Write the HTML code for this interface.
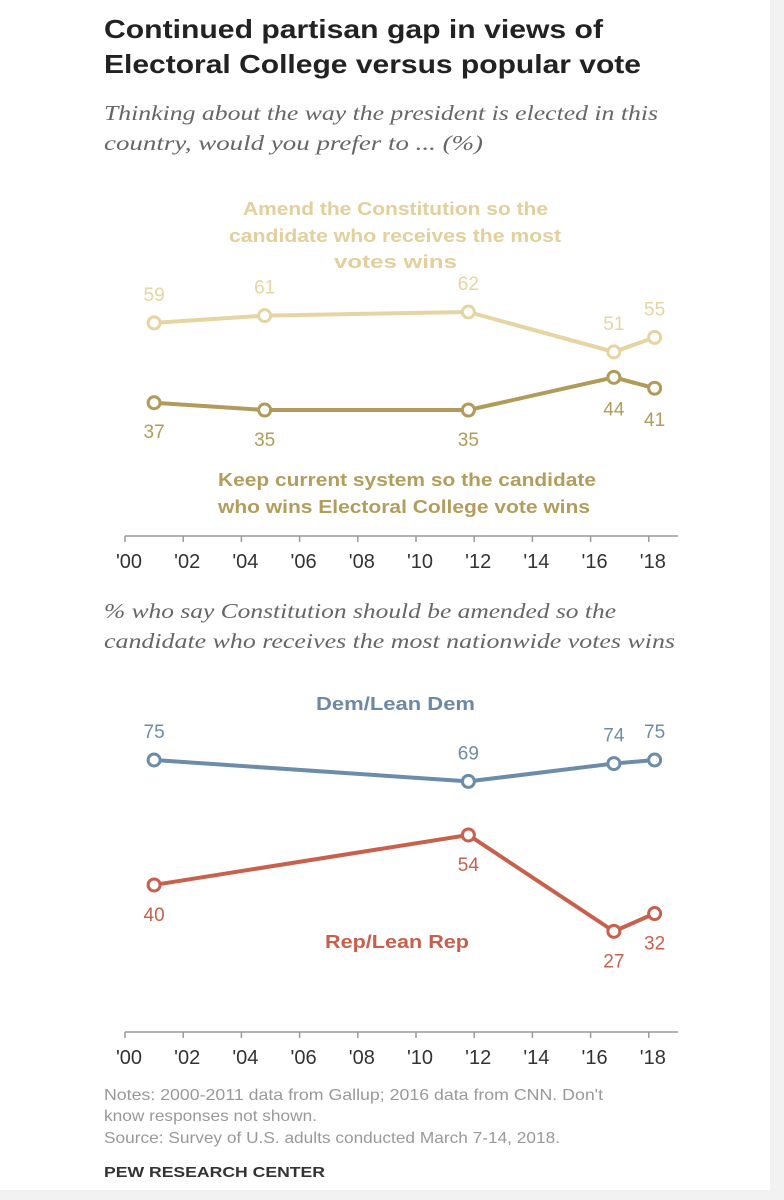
<!DOCTYPE html>
<html><head><meta charset="utf-8"><style>
body{margin:0;width:784px;height:1200px;background:#f2f2f2;font-family:"Liberation Sans",sans-serif;overflow:hidden}
#card{position:absolute;left:0;top:0;width:770px;height:1190px;background:#fff}
svg{position:absolute;left:0;top:0}
</style></head><body>
<div id="card"></div>
<svg id="c" width="784" height="1200">
<g>
<text x="104" y="38" font-size="26" font-weight="bold" fill="#222" textLength="499" lengthAdjust="spacingAndGlyphs">Continued partisan gap in views of</text>
<text x="104" y="73" font-size="26" font-weight="bold" fill="#222" textLength="537" lengthAdjust="spacingAndGlyphs">Electoral College versus popular vote</text>
<text x="104" y="120" font-family="Liberation Serif" font-style="italic" font-size="21" fill="#666" textLength="554" lengthAdjust="spacingAndGlyphs">Thinking about the way the president is elected in this</text>
<text x="104" y="150" font-family="Liberation Serif" font-style="italic" font-size="21" fill="#666" textLength="379" lengthAdjust="spacingAndGlyphs">country, would you prefer to ... (%)</text>
<g font-weight="bold" font-size="18">
<text x="243" y="215" fill="#e3cf9c" textLength="305" lengthAdjust="spacingAndGlyphs">Amend the Constitution so the</text>
<text x="229" y="242" fill="#e3cf9c" textLength="332" lengthAdjust="spacingAndGlyphs">candidate who receives the most</text>
<text x="334" y="268" fill="#e3cf9c" textLength="123" lengthAdjust="spacingAndGlyphs">votes wins</text>
<text x="218" y="486" fill="#b39d5c" textLength="378" lengthAdjust="spacingAndGlyphs">Keep current system so the candidate</text>
<text x="218" y="513" fill="#b39d5c" textLength="372" lengthAdjust="spacingAndGlyphs">who wins Electoral College vote wins</text>
<text x="316" y="710" fill="#6c8aa6" textLength="159" lengthAdjust="spacingAndGlyphs">Dem/Lean Dem</text>
<text x="325" y="948" fill="#c6604d" textLength="144" lengthAdjust="spacingAndGlyphs">Rep/Lean Rep</text>
</g>
<text x="104" y="618" font-family="Liberation Serif" font-style="italic" font-size="21" fill="#666" textLength="512" lengthAdjust="spacingAndGlyphs">% who say Constitution should be amended so the</text>
<text x="104" y="648" font-family="Liberation Serif" font-style="italic" font-size="21" fill="#666" textLength="571" lengthAdjust="spacingAndGlyphs">candidate who receives the most nationwide votes wins</text>
<g font-size="16" fill="#999">
<text x="104" y="1100" textLength="499" lengthAdjust="spacingAndGlyphs">Notes: 2000-2011 data from Gallup; 2016 data from CNN. Don't</text>
<text x="104" y="1121" textLength="213" lengthAdjust="spacingAndGlyphs">know responses not shown.</text>
<text x="104" y="1143" textLength="456" lengthAdjust="spacingAndGlyphs">Source: Survey of U.S. adults conducted March 7-14, 2018.</text>
</g>
<text x="104" y="1177" font-size="15" font-weight="bold" fill="#333" textLength="221" lengthAdjust="spacingAndGlyphs">PEW RESEARCH CENTER</text>
</g>
</svg>
<script>
const years=[2001,2004.8,2011.8,2016.8,2018.2];
const amend=[59,61,62,51,55];
const keep=[37,35,35,44,41];
const dem=[75,69,74,75];
const demYears=[2001,2011.8,2016.8,2018.2];
const rep=[40,54,27,32];
const repYears=[2001,2011.8,2016.8,2018.2];
const tickLabels=["'00","'02","'04","'06","'08","'10","'12","'14","'16","'18"];
const tickYears=[2000,2002,2004,2006,2008,2010,2012,2014,2016,2018];
const svg=document.getElementById('c');const NS="http://www.w3.org/2000/svg";
const x=y=>125+(y-2000)*29.1;
const y1=v=>312+(62-v)*3.63;
const y2=v=>760+(75-v)*3.57;
function mk(t,a){const e=document.createElementNS(NS,t);for(const k in a)e.setAttribute(k,a[k]);svg.appendChild(e);return e;}
function axis(ay,name){
 const l=mk('line',{x1:125,x2:678,y1:ay,y2:ay,stroke:'#999','stroke-width':1.5});
 
 
 tickYears.forEach((t,i)=>{
  const tk=mk('line',{x1:x(t),x2:x(t),y1:ay,y2:ay+6,stroke:'#999','stroke-width':1.5});
  
  
  const tx=mk('text',{x:x(t)+4,y:ay+32,'font-size':20,'text-anchor':'middle',fill:'#333'});
  tx.textContent=tickLabels[i];
  
  
 });
}
axis(536,'x-axis-top');axis(1032,'x-axis-bottom');
function series(xs,vals,sy,color,name,offs){
 const p=mk('polyline',{points:xs.map((t,i)=>x(t)+','+sy(vals[i])).join(' '),fill:'none',stroke:color,'stroke-width':4,'stroke-linejoin':'round'});
 
 
 xs.forEach((t,i)=>{
  const c=mk('circle',{cx:x(t),cy:sy(vals[i]),r:6,fill:'#fff',stroke:color,'stroke-width':3});
  
  
  const tx=mk('text',{x:x(t),y:sy(vals[i])+offs[i],'font-size':19,'text-anchor':'middle',fill:color});
  tx.textContent=vals[i];
  
  
 });
}
series(years,amend,y1,'#e6d4a2','amend',[-22,-22,-22,-22,-22]);
series(years,keep,y1,'#b09b5a','keep',[35,36,36,38,38]);
series(demYears,dem,y2,'#6d8ca9','dem',[-22,-22,-22,-22]);
series(repYears,rep,y2,'#c8604e','rep',[36,36,36,36]);
</script>
</body></html>
